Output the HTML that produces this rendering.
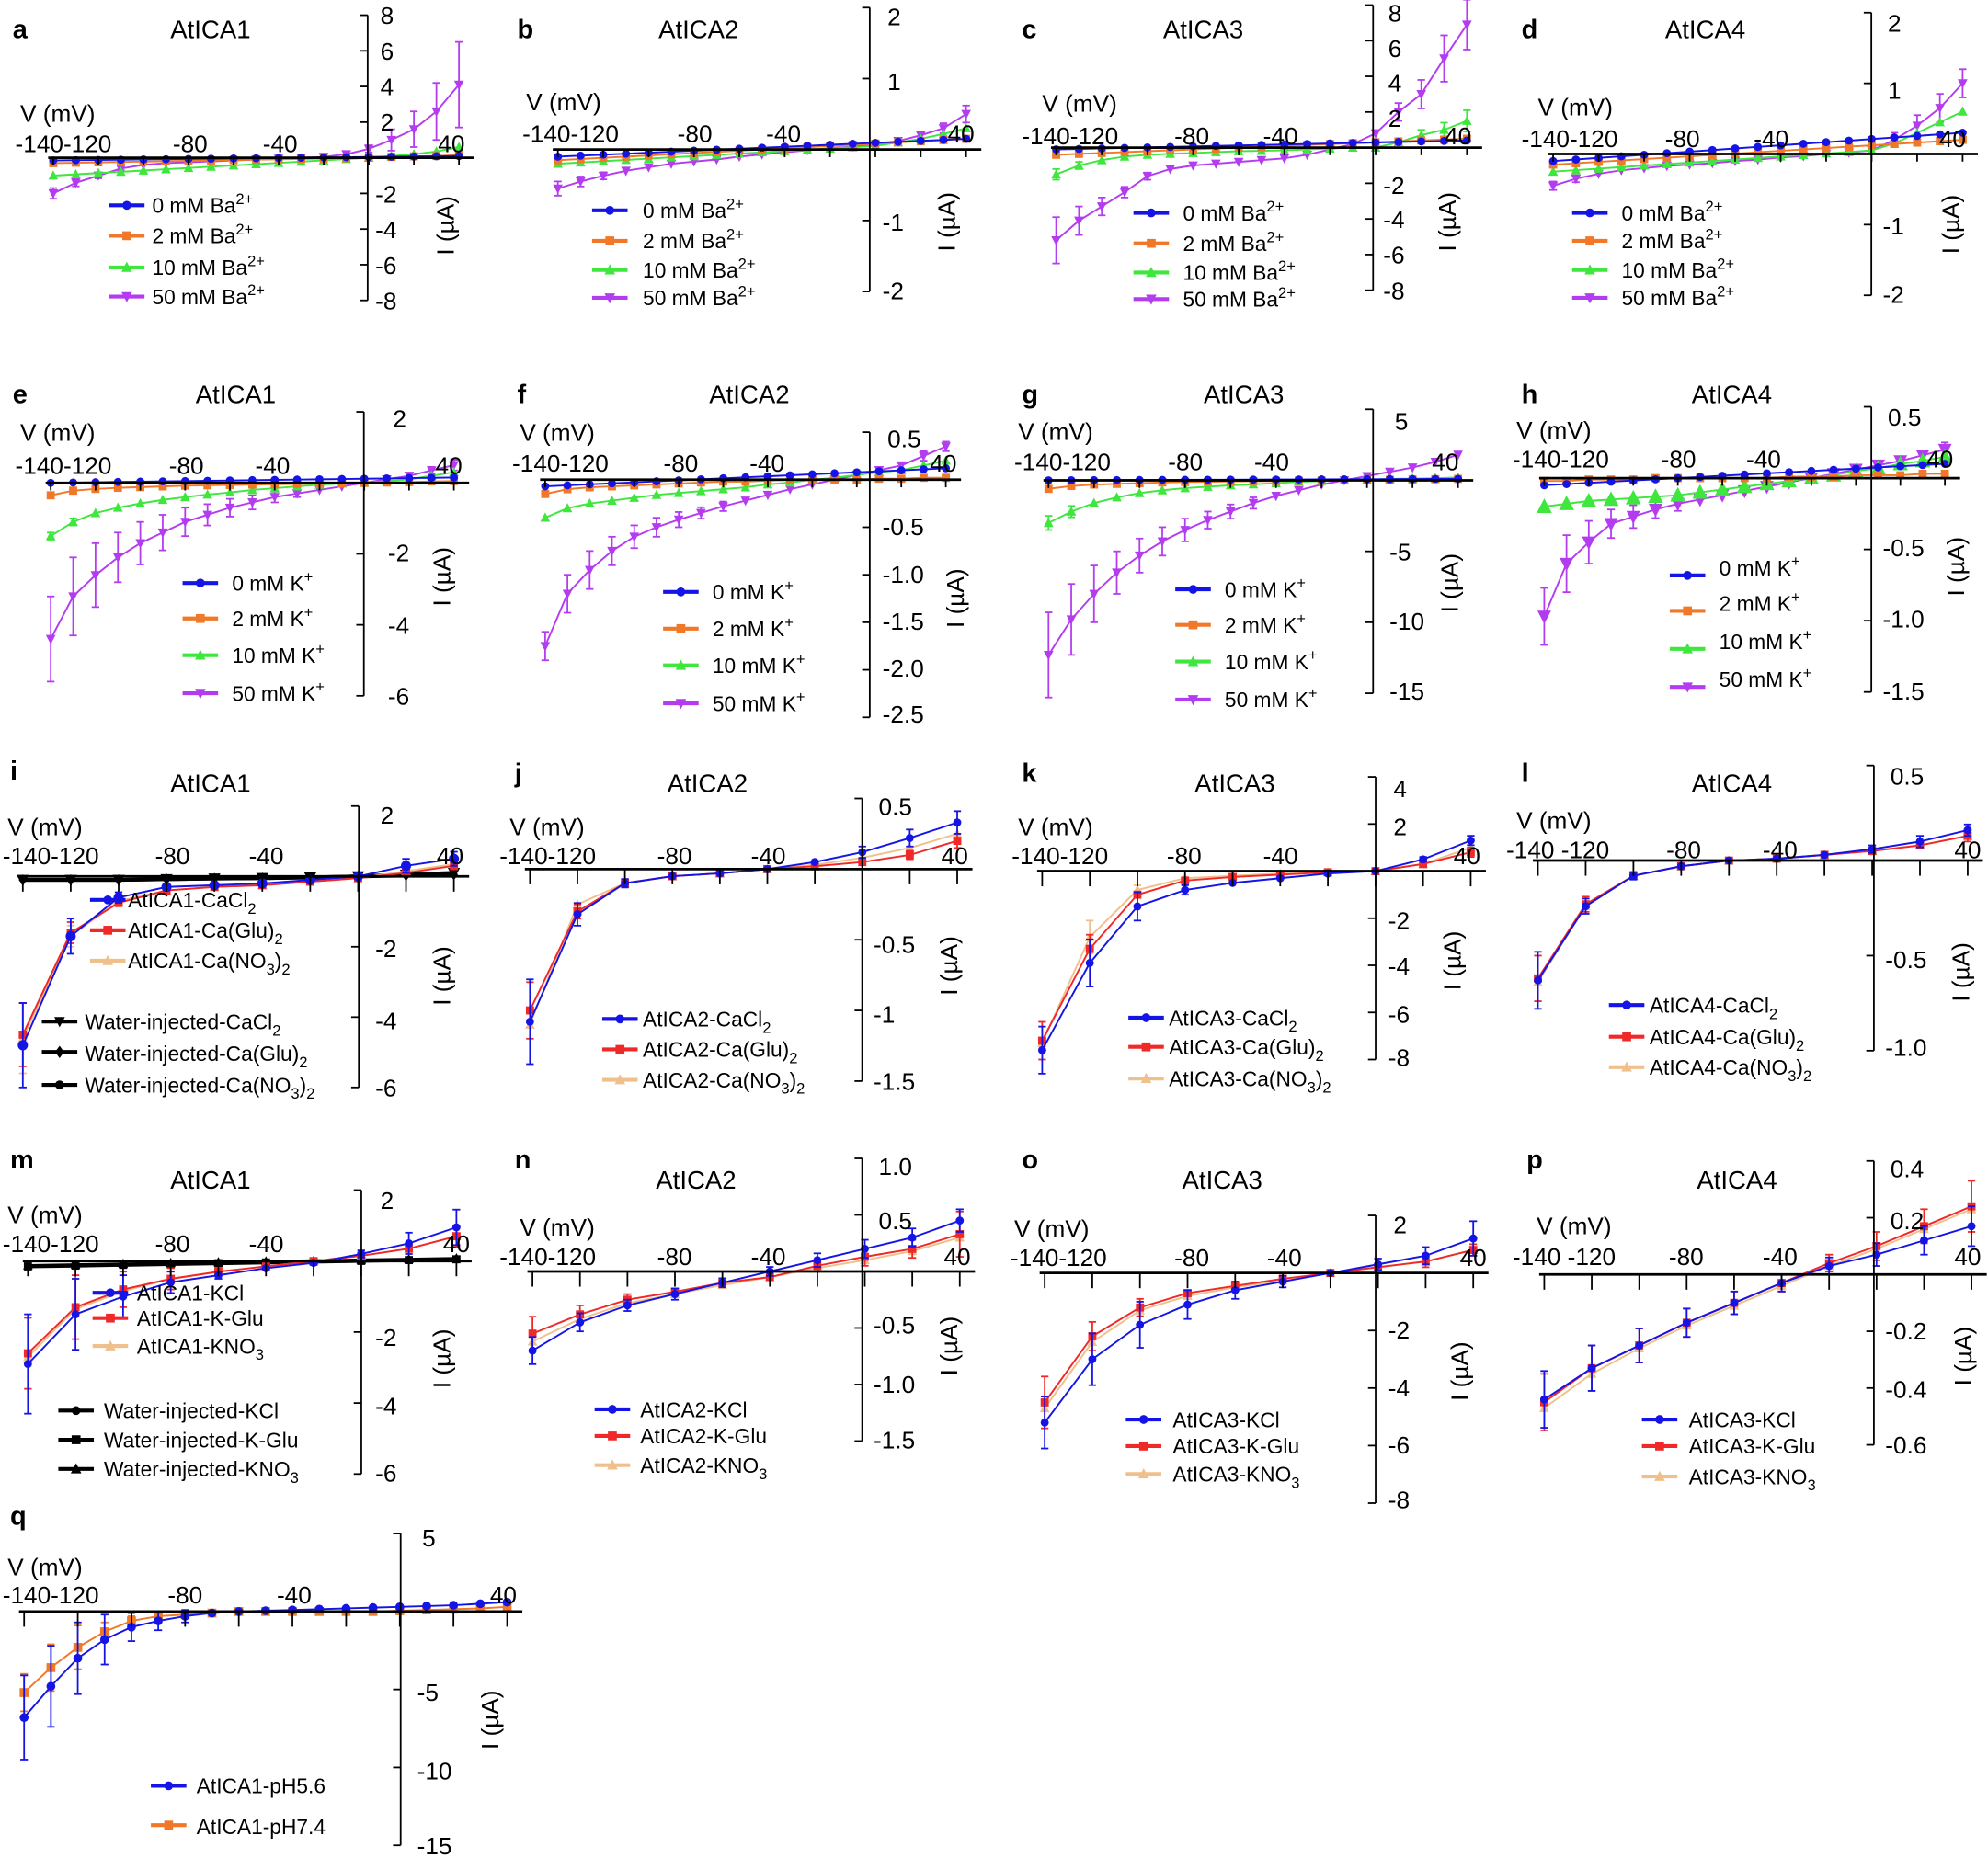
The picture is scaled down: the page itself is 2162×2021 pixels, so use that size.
<!DOCTYPE html>
<html><head><meta charset="utf-8"><style>
html,body{margin:0;padding:0;background:#fff}
svg{display:block}
text{font-family:"Liberation Sans",Arial,sans-serif;fill:#000}
.t{font-size:20px}.k{font-size:19px}.l{font-size:16.5px}.b{font-size:21px;font-weight:bold}
</style></head><body>
<svg id="s" width="2162" height="2021" viewBox="0 0 1568 1466" preserveAspectRatio="none" xmlns="http://www.w3.org/2000/svg">
<g id="g"></g>
<!-- Row 1 -->
<text class="b" x="10" y="30">a</text><text class="t" x="166" y="30" text-anchor="middle">AtICA1</text>
<text class="k" x="16" y="96">V (mV)</text><text class="k" x="12" y="120">-140-120</text><text class="k" x="150" y="120" text-anchor="middle">-80</text><text class="k" x="221" y="120" text-anchor="middle">-40</text><text class="k" x="356" y="120" text-anchor="middle">40</text>
<text class="k" x="300" y="19">8</text><text class="k" x="300" y="47">6</text><text class="k" x="300" y="75">4</text><text class="k" x="300" y="103">2</text><text class="k" x="296" y="160">-2</text><text class="k" x="296" y="188">-4</text><text class="k" x="296" y="216">-6</text><text class="k" x="296" y="244">-8</text>
<text class="k" transform="translate(358,178) rotate(-90)" text-anchor="middle">I (µA)</text>
<text class="l" x="120" y="168">0 mM Ba<tspan dy="-7" font-size="12">2+</tspan></text><text class="l" x="120" y="192">2 mM Ba<tspan dy="-7" font-size="12">2+</tspan></text><text class="l" x="120" y="217">10 mM Ba<tspan dy="-7" font-size="12">2+</tspan></text><text class="l" x="120" y="240">50 mM Ba<tspan dy="-7" font-size="12">2+</tspan></text>

<text class="b" x="408" y="30">b</text><text class="t" x="551" y="30" text-anchor="middle">AtICA2</text>
<text class="k" x="415" y="87">V (mV)</text><text class="k" x="412" y="112">-140-120</text><text class="k" x="548" y="112" text-anchor="middle">-80</text><text class="k" x="618" y="112" text-anchor="middle">-40</text><text class="k" x="758" y="112" text-anchor="middle">40</text>
<text class="k" x="700" y="20">2</text><text class="k" x="700" y="71">1</text><text class="k" x="696" y="182">-1</text><text class="k" x="696" y="236">-2</text>
<text class="k" transform="translate(753,175) rotate(-90)" text-anchor="middle">I (µA)</text>
<text class="l" x="507" y="172">0 mM Ba<tspan dy="-7" font-size="12">2+</tspan></text><text class="l" x="507" y="196">2 mM Ba<tspan dy="-7" font-size="12">2+</tspan></text><text class="l" x="507" y="219">10 mM Ba<tspan dy="-7" font-size="12">2+</tspan></text><text class="l" x="507" y="241">50 mM Ba<tspan dy="-7" font-size="12">2+</tspan></text>

<text class="b" x="806" y="30">c</text><text class="t" x="949" y="30" text-anchor="middle">AtICA3</text>
<text class="k" x="822" y="88">V (mV)</text><text class="k" x="806" y="114">-140-120</text><text class="k" x="940" y="114" text-anchor="middle">-80</text><text class="k" x="1010" y="114" text-anchor="middle">-40</text><text class="k" x="1150" y="114" text-anchor="middle">40</text>
<text class="k" x="1095" y="17">8</text><text class="k" x="1095" y="45">6</text><text class="k" x="1095" y="72">4</text><text class="k" x="1095" y="100">2</text><text class="k" x="1091" y="153">-2</text><text class="k" x="1091" y="180">-4</text><text class="k" x="1091" y="208">-6</text><text class="k" x="1091" y="236">-8</text>
<text class="k" transform="translate(1148,175) rotate(-90)" text-anchor="middle">I (µA)</text>
<text class="l" x="933" y="174">0 mM Ba<tspan dy="-7" font-size="12">2+</tspan></text><text class="l" x="933" y="198">2 mM Ba<tspan dy="-7" font-size="12">2+</tspan></text><text class="l" x="933" y="221">10 mM Ba<tspan dy="-7" font-size="12">2+</tspan></text><text class="l" x="933" y="242">50 mM Ba<tspan dy="-7" font-size="12">2+</tspan></text>

<text class="b" x="1200" y="30">d</text><text class="t" x="1345" y="30" text-anchor="middle">AtICA4</text>
<text class="k" x="1213" y="91">V (mV)</text><text class="k" x="1200" y="116">-140-120</text><text class="k" x="1327" y="116" text-anchor="middle">-80</text><text class="k" x="1397" y="116" text-anchor="middle">-40</text><text class="k" x="1540" y="116" text-anchor="middle">40</text>
<text class="k" x="1489" y="25">2</text><text class="k" x="1489" y="78">1</text><text class="k" x="1485" y="185">-1</text><text class="k" x="1485" y="239">-2</text>
<text class="k" transform="translate(1545,177) rotate(-90)" text-anchor="middle">I (µA)</text>
<text class="l" x="1279" y="174">0 mM Ba<tspan dy="-7" font-size="12">2+</tspan></text><text class="l" x="1279" y="196">2 mM Ba<tspan dy="-7" font-size="12">2+</tspan></text><text class="l" x="1279" y="219">10 mM Ba<tspan dy="-7" font-size="12">2+</tspan></text><text class="l" x="1279" y="241">50 mM Ba<tspan dy="-7" font-size="12">2+</tspan></text>

<!-- Row 2 -->
<text class="b" x="10" y="318">e</text><text class="t" x="186" y="318" text-anchor="middle">AtICA1</text>
<text class="k" x="16" y="348">V (mV)</text><text class="k" x="12" y="374">-140-120</text><text class="k" x="147" y="374" text-anchor="middle">-80</text><text class="k" x="215" y="374" text-anchor="middle">-40</text><text class="k" x="354" y="374" text-anchor="middle">40</text>
<text class="k" x="310" y="337">2</text><text class="k" x="306" y="443">-2</text><text class="k" x="306" y="500">-4</text><text class="k" x="306" y="556">-6</text>
<text class="k" transform="translate(355,455) rotate(-90)" text-anchor="middle">I (µA)</text>
<text class="l" x="183" y="466">0 mM K<tspan dy="-7" font-size="12">+</tspan></text><text class="l" x="183" y="494">2 mM K<tspan dy="-7" font-size="12">+</tspan></text><text class="l" x="183" y="523">10 mM K<tspan dy="-7" font-size="12">+</tspan></text><text class="l" x="183" y="553">50 mM K<tspan dy="-7" font-size="12">+</tspan></text>

<text class="b" x="408" y="318">f</text><text class="t" x="591" y="318" text-anchor="middle">AtICA2</text>
<text class="k" x="410" y="348">V (mV)</text><text class="k" x="404" y="372">-140-120</text><text class="k" x="537" y="372" text-anchor="middle">-80</text><text class="k" x="605" y="372" text-anchor="middle">-40</text><text class="k" x="744" y="372" text-anchor="middle">40</text>
<text class="k" x="700" y="353">0.5</text><text class="k" x="696" y="422">-0.5</text><text class="k" x="696" y="460">-1.0</text><text class="k" x="696" y="497">-1.5</text><text class="k" x="696" y="534">-2.0</text><text class="k" x="696" y="570">-2.5</text>
<text class="k" transform="translate(760,472) rotate(-90)" text-anchor="middle">I (µA)</text>
<text class="l" x="562" y="473">0 mM K<tspan dy="-7" font-size="12">+</tspan></text><text class="l" x="562" y="502">2 mM K<tspan dy="-7" font-size="12">+</tspan></text><text class="l" x="562" y="531">10 mM K<tspan dy="-7" font-size="12">+</tspan></text><text class="l" x="562" y="561">50 mM K<tspan dy="-7" font-size="12">+</tspan></text>

<text class="b" x="806" y="318">g</text><text class="t" x="981" y="318" text-anchor="middle">AtICA3</text>
<text class="k" x="803" y="347">V (mV)</text><text class="k" x="800" y="371">-140-120</text><text class="k" x="935" y="371" text-anchor="middle">-80</text><text class="k" x="1003" y="371" text-anchor="middle">-40</text><text class="k" x="1140" y="371" text-anchor="middle">40</text>
<text class="k" x="1100" y="339">5</text><text class="k" x="1096" y="442">-5</text><text class="k" x="1096" y="497">-10</text><text class="k" x="1096" y="552">-15</text>
<text class="k" transform="translate(1150,460) rotate(-90)" text-anchor="middle">I (µA)</text>
<text class="l" x="966" y="471">0 mM K<tspan dy="-7" font-size="12">+</tspan></text><text class="l" x="966" y="499">2 mM K<tspan dy="-7" font-size="12">+</tspan></text><text class="l" x="966" y="528">10 mM K<tspan dy="-7" font-size="12">+</tspan></text><text class="l" x="966" y="558">50 mM K<tspan dy="-7" font-size="12">+</tspan></text>

<text class="b" x="1200" y="318">h</text><text class="t" x="1366" y="318" text-anchor="middle">AtICA4</text>
<text class="k" x="1196" y="346">V (mV)</text><text class="k" x="1193" y="369">-140-120</text><text class="k" x="1324" y="369" text-anchor="middle">-80</text><text class="k" x="1391" y="369" text-anchor="middle">-40</text><text class="k" x="1530" y="369" text-anchor="middle">40</text>
<text class="k" x="1489" y="336">0.5</text><text class="k" x="1485" y="439">-0.5</text><text class="k" x="1485" y="495">-1.0</text><text class="k" x="1485" y="552">-1.5</text>
<text class="k" transform="translate(1549,447) rotate(-90)" text-anchor="middle">I (µA)</text>
<text class="l" x="1356" y="454">0 mM K<tspan dy="-7" font-size="12">+</tspan></text><text class="l" x="1356" y="482">2 mM K<tspan dy="-7" font-size="12">+</tspan></text><text class="l" x="1356" y="512">10 mM K<tspan dy="-7" font-size="12">+</tspan></text><text class="l" x="1356" y="542">50 mM K<tspan dy="-7" font-size="12">+</tspan></text>

<!-- Row 3 -->
<text class="b" x="8" y="615">i</text><text class="t" x="166" y="625" text-anchor="middle">AtICA1</text>
<text class="k" x="6" y="659">V (mV)</text><text class="k" x="2" y="682">-140-120</text><text class="k" x="136" y="682" text-anchor="middle">-80</text><text class="k" x="210" y="682" text-anchor="middle">-40</text><text class="k" x="355" y="682" text-anchor="middle">40</text>
<text class="k" x="300" y="650">2</text><text class="k" x="296" y="755">-2</text><text class="k" x="296" y="812">-4</text><text class="k" x="296" y="865">-6</text>
<text class="k" transform="translate(355,770) rotate(-90)" text-anchor="middle">I (µA)</text>
<text class="l" x="101" y="716">AtICA1-CaCl<tspan dy="5" font-size="12">2</tspan></text><text class="l" x="101" y="740">AtICA1-Ca(Glu)<tspan dy="5" font-size="12">2</tspan></text><text class="l" x="101" y="764">AtICA1-Ca(NO<tspan dy="5" font-size="12">3</tspan><tspan dy="-5">)</tspan><tspan dy="5" font-size="12">2</tspan></text>
<text class="l" x="67" y="812">Water-injected-CaCl<tspan dy="5" font-size="12">2</tspan></text><text class="l" x="67" y="837">Water-injected-Ca(Glu)<tspan dy="5" font-size="12">2</tspan></text><text class="l" x="67" y="862">Water-injected-Ca(NO<tspan dy="5" font-size="12">3</tspan><tspan dy="-5">)</tspan><tspan dy="5" font-size="12">2</tspan></text>

<text class="b" x="406" y="617">j</text><text class="t" x="558" y="625" text-anchor="middle">AtICA2</text>
<text class="k" x="402" y="659">V (mV)</text><text class="k" x="394" y="682">-140-120</text><text class="k" x="532" y="682" text-anchor="middle">-80</text><text class="k" x="606" y="682" text-anchor="middle">-40</text><text class="k" x="753" y="682" text-anchor="middle">40</text>
<text class="k" x="693" y="643">0.5</text><text class="k" x="689" y="752">-0.5</text><text class="k" x="689" y="807">-1</text><text class="k" x="689" y="860">-1.5</text>
<text class="k" transform="translate(755,762) rotate(-90)" text-anchor="middle">I (µA)</text>
<text class="l" x="507" y="810">AtICA2-CaCl<tspan dy="5" font-size="12">2</tspan></text><text class="l" x="507" y="834">AtICA2-Ca(Glu)<tspan dy="5" font-size="12">2</tspan></text><text class="l" x="507" y="858">AtICA2-Ca(NO<tspan dy="5" font-size="12">3</tspan><tspan dy="-5">)</tspan><tspan dy="5" font-size="12">2</tspan></text>

<text class="b" x="806" y="617">k</text><text class="t" x="974" y="625" text-anchor="middle">AtICA3</text>
<text class="k" x="803" y="659">V (mV)</text><text class="k" x="798" y="682">-140-120</text><text class="k" x="934" y="682" text-anchor="middle">-80</text><text class="k" x="1010" y="682" text-anchor="middle">-40</text><text class="k" x="1157" y="682" text-anchor="middle">40</text>
<text class="k" x="1099" y="629">4</text><text class="k" x="1099" y="659">2</text><text class="k" x="1095" y="733">-2</text><text class="k" x="1095" y="769">-4</text><text class="k" x="1095" y="807">-6</text><text class="k" x="1095" y="841">-8</text>
<text class="k" transform="translate(1152,758) rotate(-90)" text-anchor="middle">I (µA)</text>
<text class="l" x="922" y="809">AtICA3-CaCl<tspan dy="5" font-size="12">2</tspan></text><text class="l" x="922" y="832">AtICA3-Ca(Glu)<tspan dy="5" font-size="12">2</tspan></text><text class="l" x="922" y="857">AtICA3-Ca(NO<tspan dy="5" font-size="12">3</tspan><tspan dy="-5">)</tspan><tspan dy="5" font-size="12">2</tspan></text>

<text class="b" x="1200" y="617">l</text><text class="t" x="1366" y="625" text-anchor="middle">AtICA4</text>
<text class="k" x="1196" y="654">V (mV)</text><text class="k" x="1188" y="677">-140 -120</text><text class="k" x="1328" y="677" text-anchor="middle">-80</text><text class="k" x="1404" y="677" text-anchor="middle">-40</text><text class="k" x="1552" y="677" text-anchor="middle">40</text>
<text class="k" x="1491" y="619">0.5</text><text class="k" x="1487" y="764">-0.5</text><text class="k" x="1487" y="833">-1.0</text>
<text class="k" transform="translate(1553,767) rotate(-90)" text-anchor="middle">I (µA)</text>
<text class="l" x="1301" y="799">AtICA4-CaCl<tspan dy="5" font-size="12">2</tspan></text><text class="l" x="1301" y="824">AtICA4-Ca(Glu)<tspan dy="5" font-size="12">2</tspan></text><text class="l" x="1301" y="848">AtICA4-Ca(NO<tspan dy="5" font-size="12">3</tspan><tspan dy="-5">)</tspan><tspan dy="5" font-size="12">2</tspan></text>

<!-- Row 4 -->
<text class="b" x="8" y="922">m</text><text class="t" x="166" y="938" text-anchor="middle">AtICA1</text>
<text class="k" x="6" y="965">V (mV)</text><text class="k" x="2" y="988">-140-120</text><text class="k" x="136" y="988" text-anchor="middle">-80</text><text class="k" x="210" y="988" text-anchor="middle">-40</text><text class="k" x="360" y="988" text-anchor="middle">40</text>
<text class="k" x="300" y="954">2</text><text class="k" x="296" y="1062">-2</text><text class="k" x="296" y="1116">-4</text><text class="k" x="296" y="1169">-6</text>
<text class="k" transform="translate(355,1072) rotate(-90)" text-anchor="middle">I (µA)</text>
<text class="l" x="108" y="1026">AtICA1-KCl</text><text class="l" x="108" y="1046">AtICA1-K-Glu</text><text class="l" x="108" y="1068">AtICA1-KNO<tspan dy="5" font-size="12">3</tspan></text>
<text class="l" x="82" y="1119">Water-injected-KCl</text><text class="l" x="82" y="1142">Water-injected-K-Glu</text><text class="l" x="82" y="1165">Water-injected-KNO<tspan dy="5" font-size="12">3</tspan></text>

<text class="b" x="406" y="922">n</text><text class="t" x="549" y="938" text-anchor="middle">AtICA2</text>
<text class="k" x="410" y="975">V (mV)</text><text class="k" x="394" y="998">-140-120</text><text class="k" x="532" y="998" text-anchor="middle">-80</text><text class="k" x="606" y="998" text-anchor="middle">-40</text><text class="k" x="755" y="998" text-anchor="middle">40</text>
<text class="k" x="693" y="927">1.0</text><text class="k" x="693" y="970">0.5</text><text class="k" x="689" y="1052">-0.5</text><text class="k" x="689" y="1099">-1.0</text><text class="k" x="689" y="1143">-1.5</text>
<text class="k" transform="translate(755,1062) rotate(-90)" text-anchor="middle">I (µA)</text>
<text class="l" x="505" y="1118">AtICA2-KCl</text><text class="l" x="505" y="1139">AtICA2-K-Glu</text><text class="l" x="505" y="1162">AtICA2-KNO<tspan dy="5" font-size="12">3</tspan></text>

<text class="b" x="806" y="922">o</text><text class="t" x="964" y="938" text-anchor="middle">AtICA3</text>
<text class="k" x="800" y="976">V (mV)</text><text class="k" x="797" y="999">-140-120</text><text class="k" x="940" y="999" text-anchor="middle">-80</text><text class="k" x="1013" y="999" text-anchor="middle">-40</text><text class="k" x="1162" y="999" text-anchor="middle">40</text>
<text class="k" x="1099" y="973">2</text><text class="k" x="1095" y="1056">-2</text><text class="k" x="1095" y="1102">-4</text><text class="k" x="1095" y="1147">-6</text><text class="k" x="1095" y="1190">-8</text>
<text class="k" transform="translate(1158,1082) rotate(-90)" text-anchor="middle">I (µA)</text>
<text class="l" x="925" y="1126">AtICA3-KCl</text><text class="l" x="925" y="1147">AtICA3-K-Glu</text><text class="l" x="925" y="1169">AtICA3-KNO<tspan dy="5" font-size="12">3</tspan></text>

<text class="b" x="1204" y="922">p</text><text class="t" x="1370" y="938" text-anchor="middle">AtICA4</text>
<text class="k" x="1212" y="974">V (mV)</text><text class="k" x="1193" y="998">-140 -120</text><text class="k" x="1330" y="998" text-anchor="middle">-80</text><text class="k" x="1404" y="998" text-anchor="middle">-40</text><text class="k" x="1552" y="998" text-anchor="middle">40</text>
<text class="k" x="1491" y="929">0.4</text><text class="k" x="1491" y="970">0.2</text><text class="k" x="1487" y="1057">-0.2</text><text class="k" x="1487" y="1103">-0.4</text><text class="k" x="1487" y="1147">-0.6</text>
<text class="k" transform="translate(1555,1070) rotate(-90)" text-anchor="middle">I (µA)</text>
<text class="l" x="1332" y="1126">AtICA3-KCl</text><text class="l" x="1332" y="1147">AtICA3-K-Glu</text><text class="l" x="1332" y="1171">AtICA3-KNO<tspan dy="5" font-size="12">3</tspan></text>

<!-- Row 5 -->
<text class="b" x="8" y="1203">q</text>
<text class="k" x="6" y="1243">V (mV)</text><text class="k" x="2" y="1265">-140-120</text><text class="k" x="146" y="1265" text-anchor="middle">-80</text><text class="k" x="232" y="1265" text-anchor="middle">-40</text><text class="k" x="397" y="1265" text-anchor="middle">40</text>
<text class="k" x="333" y="1220">5</text><text class="k" x="329" y="1342">-5</text><text class="k" x="329" y="1404">-10</text><text class="k" x="329" y="1463">-15</text>
<text class="k" transform="translate(393,1357) rotate(-90)" text-anchor="middle">I (µA)</text>
<text class="l" x="155" y="1415">AtICA1-pH5.6</text><text class="l" x="155" y="1447">AtICA1-pH7.4</text>
</svg>
<script>
var NS="http://www.w3.org/2000/svg",G=document.getElementById("g");
function el(n,a){var e=document.createElementNS(NS,n);for(var k in a)e.setAttribute(k,a[k]);G.appendChild(e);return e;}
var B="#1414e6",O="#f07828",GR="#3ee63e",PU="#b43cf0",R="#f02828",T="#f0c08c",K="#000";
function mk(x,y,c,m,s){s=s||3.2;
 if(m=="o")el("circle",{cx:x,cy:y,r:s,fill:c});
 else if(m=="s")el("rect",{x:x-s,y:y-s,width:2*s,height:2*s,fill:c});
 else if(m=="^")el("polygon",{points:(x)+","+(y-s*1.3)+" "+(x-s*1.2)+","+(y+s)+" "+(x+s*1.2)+","+(y+s),fill:c});
 else if(m=="v")el("polygon",{points:(x)+","+(y+s*1.3)+" "+(x-s*1.2)+","+(y-s)+" "+(x+s*1.2)+","+(y-s),fill:c});
 else if(m=="d")el("polygon",{points:x+","+(y-s*1.4)+" "+(x+s)+","+y+" "+x+","+(y+s*1.4)+" "+(x-s)+","+y,fill:c});
}
function P(s){
 var X=function(v){return s.x0+(v+140)/180*(s.x1-s.x0)},Y=function(i){return s.yt+(s.vt-i)/(s.vt-s.vb)*(s.yb-s.yt)};
 var ya=Y(0);
 s.S.forEach(function(q){var n=q.d.length,st=180/(n-1),pts=[];
  q.d.forEach(function(v,i){pts.push(X(-140+i*st)+","+Y(v));});
  if(q.e)q.d.forEach(function(v,i){var e=q.e[i]||0;if(!e)return;var x=X(-140+i*st);el("line",{x1:x,x2:x,y1:Y(v-e),y2:Y(v+e),stroke:q.c,"stroke-width":1.3});el("line",{x1:x-3,x2:x+3,y1:Y(v-e),y2:Y(v-e),stroke:q.c,"stroke-width":1.3});el("line",{x1:x-3,x2:x+3,y1:Y(v+e),y2:Y(v+e),stroke:q.c,"stroke-width":1.3});});
  el("polyline",{points:pts.join(" "),fill:"none",stroke:q.c,"stroke-width":q.w||1.4});
  q.d.forEach(function(v,i){mk(X(-140+i*st),Y(v),q.c,q.m,q.ms);});
 });
 el("line",{x1:X(-140)-4,x2:X(40)+12,y1:ya,y2:ya,stroke:"#000","stroke-width":2});
 for(var v=-140;v<=40;v+=20)el("line",{x1:X(v),x2:X(v),y1:ya,y2:ya+s.tl,stroke:"#000","stroke-width":1.3});
 el("line",{x1:s.yx,x2:s.yx,y1:s.yt,y2:s.yb,stroke:"#000","stroke-width":1.3});
 s.tk.forEach(function(t){el("line",{x1:s.yx-6,x2:s.yx,y1:Y(t),y2:Y(t),stroke:"#000","stroke-width":1.3});});
 (s.L||[]).forEach(function(l){el("line",{x1:l[0]-14,x2:l[0]+14,y1:l[1],y2:l[1],stroke:l[2],"stroke-width":3});mk(l[0],l[1],l[2],l[3],3.5);});
}
function lin(a,b,n){var r=[];for(var i=0;i<n;i++)r.push(a+(b-a)*i/(n-1));return r;}
var L4=function(x,ys){return [[x,ys[0],B,"o"],[x,ys[1],O,"s"],[x,ys[2],GR,"^"],[x,ys[3],PU,"v"]];};
P({x0:42,x1:362,yx:290,yt:12,yb:237,vt:8,vb:-8,tl:6,tk:[8,6,4,2,0,-2,-4,-6,-8],L:L4(100,[162,186,211,234]),S:[
 {c:PU,m:"v",d:[-2,-1.4,-1,-0.6,-0.4,-0.3,-0.25,-0.2,-0.15,-0.1,-0.05,0,0.05,0.2,0.5,1,1.6,2.6,4.1],e:[0.3,0.2,0.15,0.1,0,0,0,0,0,0,0,0,0,0,0.2,0.6,1,1.6,2.4]},
 {c:GR,m:"^",d:lin(-1,0,15).concat([0.1,0.2,0.35,0.6])},
 {c:O,m:"s",d:lin(-0.3,0,15).concat([0.05,0.08,0.1,0.15])},
 {c:B,m:"o",d:lin(-0.15,0.1,19)}]});
P({x0:440,x1:762,yx:686,yt:6,yb:230,vt:2,vb:-2,tl:6,tk:[2,1,0,-1,-2],L:L4(481,[166,190,213,235]),S:[
 {c:PU,m:"v",d:[-0.55,-0.45,-0.37,-0.3,-0.25,-0.2,-0.17,-0.14,-0.1,-0.07,-0.04,-0.01,0.02,0.04,0.07,0.12,0.2,0.3,0.5],e:[0.1,0.07,0.05,0,0,0,0,0,0,0,0,0,0,0,0,0,0.05,0.07,0.12]},
 {c:GR,m:"^",d:lin(-0.2,0.05,15).concat([0.1,0.15,0.22,0.3])},
 {c:O,m:"s",d:lin(-0.15,0.15,19)},
 {c:B,m:"o",d:lin(-0.1,0.15,19)}]});
P({x0:833,x1:1157,yx:1083,yt:4,yb:229,vt:8,vb:-8,tl:6,tk:[8,6,4,2,0,-2,-4,-6,-8],L:L4(908,[168,192,215,236]),S:[
 {c:PU,m:"v",d:[-5.2,-4.1,-3.3,-2.5,-1.6,-1.2,-1,-0.9,-0.8,-0.7,-0.6,-0.4,-0.1,0.2,0.8,2,3,5,6.9],e:[1.3,0.8,0.5,0.3,0.2,0,0,0,0,0,0,0,0,0,0,0.5,0.8,1.3,1.4]},
 {c:GR,m:"^",d:[-1.5,-1,-0.7,-0.5,-0.4,-0.35,-0.3,-0.25,-0.2,-0.18,-0.15,-0.1,-0.05,0,0,0.3,0.7,1,1.5],e:[0.3,0.2,0,0,0,0,0,0,0,0,0,0,0,0,0,0,0.3,0.4,0.6]},
 {c:O,m:"s",d:lin(-0.4,0.5,19)},
 {c:B,m:"o",d:lin(-0.1,0.4,19)}]});
P({x0:1225,x1:1548,yx:1476,yt:10,yb:233,vt:2,vb:-2,tl:6,tk:[2,1,0,-1,-2],L:L4(1254,[168,190,213,235]),S:[
 {c:PU,m:"v",d:[-0.45,-0.35,-0.28,-0.23,-0.2,-0.17,-0.15,-0.13,-0.1,-0.08,-0.05,-0.03,0,0.02,0.05,0.2,0.4,0.65,1.0],e:[0.06,0.05,0,0,0,0,0,0,0,0,0,0,0,0,0,0.1,0.15,0.2,0.2]},
 {c:GR,m:"^",d:lin(-0.25,0.05,15).concat([0.15,0.3,0.45,0.6])},
 {c:O,m:"s",d:lin(-0.15,0.2,19)},
 {c:B,m:"o",d:lin(-0.1,0.3,19)}]});
P({x0:40,x1:358,yx:287,yt:325,yb:549,vt:2,vb:-6,tl:6,tk:[2,0,-2,-4,-6],L:L4(158,[460,488,517,547]),S:[
 {c:PU,m:"v",d:[-4.4,-3.2,-2.6,-2.1,-1.7,-1.4,-1.1,-0.9,-0.7,-0.55,-0.4,-0.3,-0.2,-0.1,0,0.1,0.2,0.35,0.5],e:[1.2,1.1,0.9,0.7,0.6,0.5,0.4,0.3,0.25,0.2,0.15,0.1,0,0,0,0,0,0.1,0.15]},
 {c:GR,m:"^",d:[-1.5,-1.1,-0.85,-0.7,-0.58,-0.48,-0.4,-0.33,-0.27,-0.2,-0.15,-0.1,-0.05,-0.02,0,0.05,0.1,0.2,0.3],e:[0.1,0.1,0,0,0,0,0,0,0,0,0,0,0,0,0,0,0,0,0]},
 {c:O,m:"s",d:[-0.35,-0.22,-0.17,-0.14,-0.12,-0.1,-0.08,-0.07,-0.06,-0.05,-0.04,-0.03,-0.02,-0.01,0,0.01,0.02,0.04,0.05]},
 {c:B,m:"o",d:lin(0,0.15,19)}]});
P({x0:430,x1:746,yx:686,yt:341,yb:566,vt:0.5,vb:-2.5,tl:6,tk:[0.5,0,-0.5,-1,-1.5,-2,-2.5],L:L4(537,[467,496,525,555]),S:[
 {c:PU,m:"v",d:[-1.75,-1.2,-0.95,-0.75,-0.6,-0.5,-0.42,-0.35,-0.28,-0.22,-0.16,-0.1,-0.05,0,0.05,0.1,0.15,0.25,0.35],e:[0.15,0.2,0.2,0.15,0.12,0.1,0.08,0.06,0.05,0,0,0,0,0,0,0,0,0.05,0.05]},
 {c:GR,m:"^",d:[-0.4,-0.3,-0.25,-0.22,-0.19,-0.16,-0.14,-0.12,-0.1,-0.08,-0.05,-0.03,0,0.02,0.05,0.08,0.1,0.15,0.2]},
 {c:O,m:"s",d:[-0.15,-0.1,-0.08,-0.07,-0.06,-0.05,-0.04,-0.03,-0.02,-0.02,-0.01,0,0,0,0,0.01,0.01,0.02,0.02]},
 {c:B,m:"o",d:lin(-0.07,0.12,19)}]});
P({x0:827,x1:1150,yx:1083,yt:323,yb:547,vt:5,vb:-15,tl:6,tk:[5,0,-5,-10,-15],L:L4(941,[465,493,522,552]),S:[
 {c:PU,m:"v",d:[-12.3,-9.8,-8,-6.5,-5.3,-4.3,-3.5,-2.8,-2.2,-1.6,-1.1,-0.7,-0.3,0,0.3,0.6,0.9,1.3,1.8],e:[3,2.5,2,1.5,1.2,1,0.8,0.6,0.5,0.4,0,0,0,0,0,0,0,0,0]},
 {c:GR,m:"^",d:[-3,-2.2,-1.6,-1.2,-0.9,-0.7,-0.55,-0.45,-0.35,-0.28,-0.2,-0.1,-0.05,0,0.05,0.1,0.12,0.15,0.2],e:[0.5,0.4,0,0,0,0,0,0,0,0,0,0,0,0,0,0,0,0,0]},
 {c:O,m:"s",d:[-0.6,-0.4,-0.3,-0.25,-0.2,-0.15,-0.12,-0.1,-0.08,-0.06,-0.05,-0.03,-0.02,0,0.02,0.04,0.06,0.08,0.1]},
 {c:B,m:"o",d:lin(0,0.1,19)}]});
P({x0:1218,x1:1534,yx:1476,yt:321,yb:546,vt:0.5,vb:-1.5,tl:6,tk:[0.5,0,-0.5,-1,-1.5],L:[[1331,454,B,"o"],[1331,482,O,"s"],[1331,512,GR,"^"],[1331,542,PU,"v"]],S:[
 {c:PU,m:"v",ms:4.5,d:[-0.97,-0.6,-0.45,-0.32,-0.27,-0.22,-0.18,-0.15,-0.12,-0.09,-0.06,-0.03,0,0.03,0.06,0.09,0.12,0.16,0.2],e:[0.2,0.2,0.15,0.1,0.08,0.06,0.05,0,0,0,0,0,0,0,0,0,0,0.03,0.05]},
 {c:GR,m:"^",ms:5,d:[-0.2,-0.18,-0.16,-0.15,-0.14,-0.13,-0.12,-0.1,-0.08,-0.06,-0.04,-0.02,0,0.02,0.05,0.07,0.1,0.12,0.15]},
 {c:O,m:"s",d:[-0.02,-0.02,-0.01,-0.01,-0.01,0,0,0,0,0,0,0.01,0.01,0.01,0.02,0.02,0.02,0.03,0.03]},
 {c:B,m:"o",d:lin(-0.05,0.1,19)}]});
P({x0:18,x1:358,yx:283,yt:636,yb:858,vt:2,vb:-6,tl:12,tk:[2,0,-2,-4,-6],L:[[85,710,B,"o"],[85,734,R,"s"],[85,758,T,"^"],[47,806,K,"v"],[47,830,K,"d"],[47,856,K,"o"]],S:[
 {c:K,m:"v",w:3,ms:4,d:[-0.1,-0.1,-0.1,-0.08,-0.06,-0.05,-0.03,0,0.05,0.1]},
 {c:K,m:"d",w:3,d:[-0.1,-0.1,-0.1,-0.08,-0.06,-0.05,-0.03,0,0.03,0.05]},
 {c:T,m:"^",d:[-4.6,-1.7,-0.7,-0.4,-0.3,-0.25,-0.15,-0.05,0.15,0.35],e:[1,0.3,0.1,0,0,0,0,0,0.1,0.1]},
 {c:R,m:"s",d:[-4.5,-1.6,-0.75,-0.4,-0.3,-0.25,-0.15,-0.05,0.1,0.3],e:[0.9,0.3,0.1,0,0,0,0,0,0.1,0.1]},
 {c:B,m:"o",ms:4,d:[-4.8,-1.7,-0.6,-0.3,-0.25,-0.2,-0.1,0,0.3,0.5],e:[1.2,0.5,0.15,0.1,0,0,0,0,0.2,0.2]}]});
P({x0:418,x1:755,yx:680,yt:630,yb:853,vt:0.5,vb:-1.5,tl:12,tk:[0.5,0,-0.5,-1,-1.5],L:[[489,804,B,"o"],[489,828,R,"s"],[489,852,T,"^"]],S:[
 {c:T,m:"^",d:[-1.1,-0.25,-0.1,-0.05,-0.03,0,0.03,0.08,0.15,0.25]},
 {c:R,m:"s",d:[-1.0,-0.3,-0.1,-0.05,-0.03,0,0.02,0.05,0.1,0.2],e:[0.2,0.05,0,0,0,0,0,0,0.03,0.05]},
 {c:B,m:"o",d:[-1.08,-0.32,-0.1,-0.05,-0.03,0,0.05,0.12,0.22,0.33],e:[0.3,0.08,0.03,0,0,0,0,0.04,0.06,0.08]}]});
P({x0:822,x1:1160,yx:1085,yt:613,yb:836,vt:4,vb:-8,tl:12,tk:[4,2,0,-2,-4,-6,-8],L:[[904,803,B,"o"],[904,826,R,"s"],[904,851,T,"^"]],S:[
 {c:T,m:"^",d:[-7.3,-2.8,-0.8,-0.3,-0.2,-0.1,-0.05,0,0.3,1.0],e:[0,0.7,0.2,0,0,0,0,0,0,0]},
 {c:R,m:"s",d:[-7.2,-3.3,-1.0,-0.4,-0.25,-0.15,-0.05,0,0.3,0.8],e:[0.8,0.6,0,0,0,0,0,0,0,0.2]},
 {c:B,m:"o",d:[-7.6,-3.9,-1.5,-0.8,-0.5,-0.3,-0.1,0,0.5,1.3],e:[1,1,0.6,0.2,0,0,0,0,0.1,0.2]}]});
P({x0:1213,x1:1552,yx:1478,yt:604,yb:829,vt:0.5,vb:-1.0,tl:12,tk:[0.5,0,-0.5,-1],L:[[1283,793,B,"o"],[1283,818,R,"s"],[1283,842,T,"^"]],S:[
 {c:T,m:"^",d:[-0.64,-0.24,-0.08,-0.03,0,0.01,0.03,0.05,0.08,0.13]},
 {c:R,m:"s",d:[-0.62,-0.23,-0.08,-0.03,0,0.01,0.03,0.05,0.08,0.13],e:[0.12,0.04,0,0,0,0,0,0,0,0.03]},
 {c:B,m:"o",d:[-0.63,-0.24,-0.08,-0.03,0,0.01,0.03,0.06,0.1,0.16],e:[0.15,0.04,0.02,0,0,0,0,0.02,0.03,0.03]}]});
P({x0:22,x1:360,yx:285,yt:939,yb:1163,vt:2,vb:-6,tl:12,tk:[2,0,-2,-4,-6],L:[[87,1020,B,"o"],[87,1040,R,"s"],[87,1062,T,"^"],[60,1113,K,"o"],[60,1136,K,"s"],[60,1159,K,"^"]],S:[
 {c:K,m:"s",w:3,d:lin(-0.15,0.05,10)},
 {c:K,m:"^",w:2,d:lin(-0.12,0.08,10)},
 {c:T,m:"^",d:[-2.7,-1.35,-0.85,-0.5,-0.3,-0.15,0,0.15,0.35,0.7]},
 {c:R,m:"s",d:[-2.6,-1.3,-0.8,-0.5,-0.3,-0.15,0,0.15,0.35,0.7],e:[1,0.9,0.5,0.3,0,0,0,0,0,0.3]},
 {c:B,m:"o",d:[-2.9,-1.5,-1.0,-0.6,-0.4,-0.2,-0.05,0.2,0.5,0.95],e:[1.4,1,0.6,0.3,0.1,0,0,0.1,0.3,0.5]}]});
P({x0:420,x1:757,yx:680,yt:914,yb:1137,vt:1.0,vb:-1.5,tl:12,tk:[1,0.5,0,-0.5,-1,-1.5],L:[[483,1112,B,"o"],[483,1133,R,"s"],[483,1156,T,"^"]],S:[
 {c:T,m:"^",d:[-0.62,-0.42,-0.28,-0.2,-0.12,-0.05,0.03,0.1,0.18,0.3]},
 {c:R,m:"s",d:[-0.55,-0.38,-0.25,-0.18,-0.1,-0.05,0.05,0.13,0.2,0.33],e:[0.15,0.08,0.05,0,0,0,0.05,0.08,0.08,0.2]},
 {c:B,m:"o",d:[-0.7,-0.45,-0.3,-0.2,-0.1,0,0.1,0.2,0.3,0.45],e:[0.12,0.08,0.05,0.05,0.04,0.04,0.06,0.08,0.08,0.1]}]});
P({x0:824,x1:1162,yx:1085,yt:959,yb:1186,vt:2,vb:-8,tl:12,tk:[2,0,-2,-4,-6,-8],L:[[902,1120,B,"o"],[902,1141,R,"s"],[902,1163,T,"^"]],S:[
 {c:T,m:"^",d:[-4.7,-2.4,-1.3,-0.8,-0.5,-0.25,0,0.2,0.4,0.8]},
 {c:R,m:"s",d:[-4.5,-2.2,-1.2,-0.7,-0.45,-0.2,0,0.2,0.4,0.8],e:[0.9,0.5,0.3,0,0,0,0,0,0.2,0.2]},
 {c:B,m:"o",d:[-5.2,-3.0,-1.8,-1.1,-0.6,-0.3,0,0.3,0.6,1.2],e:[0.9,0.9,0.8,0.5,0.3,0.2,0,0.2,0.3,0.6]}]});
P({x0:1218,x1:1555,yx:1478,yt:916,yb:1140,vt:0.4,vb:-0.6,tl:12,tk:[0.4,0.2,0,-0.2,-0.4,-0.6],L:[[1309,1120,B,"o"],[1309,1141,R,"s"],[1309,1165,T,"^"]],S:[
 {c:T,m:"^",d:[-0.47,-0.35,-0.26,-0.18,-0.11,-0.04,0.03,0.09,0.16,0.23]},
 {c:R,m:"s",d:[-0.45,-0.33,-0.25,-0.17,-0.1,-0.03,0.04,0.1,0.17,0.24],e:[0.1,0.08,0.06,0.05,0.04,0.03,0.03,0.05,0.06,0.09]},
 {c:B,m:"o",d:[-0.44,-0.33,-0.25,-0.17,-0.1,-0.03,0.03,0.07,0.12,0.17],e:[0.1,0.08,0.06,0.05,0.04,0.03,0.03,0.04,0.05,0.07]}]});
P({x0:19,x1:400,yx:316,yt:1210,yb:1456,vt:5,vb:-15,tl:12,tk:[5,0,-5,-10,-15],L:[[133,1409,B,"o"],[133,1440,O,"s"]],S:[
 {c:O,m:"s",ms:3.5,d:[-5.2,-3.6,-2.3,-1.3,-0.6,-0.3,-0.2,-0.1,0,0,0,0,0,0,0.05,0.1,0.15,0.2,0.3],e:[1.2,1.5,1.4,0.6,0.3,0.2,0.1,0,0,0,0,0,0,0,0,0,0,0,0]},
 {c:B,m:"o",ms:3.5,d:[-6.8,-4.8,-3.0,-1.8,-1.0,-0.6,-0.3,-0.1,0,0.05,0.1,0.15,0.2,0.25,0.3,0.35,0.4,0.5,0.6],e:[2.7,2.6,2.3,1.6,0.9,0.6,0.4,0.1,0,0,0,0,0,0,0,0,0,0,0]}]});
</script>
</body></html>
